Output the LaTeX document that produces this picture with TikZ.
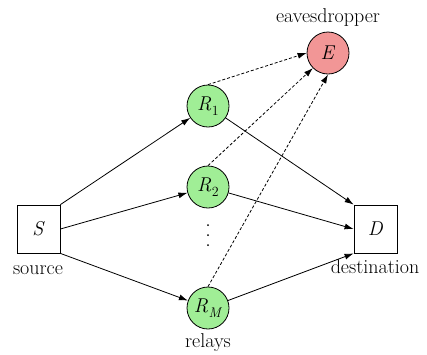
\documentclass[tikz,border=0pt]{standalone}
\usetikzlibrary{arrows.meta}
\definecolor{relaygreen}{RGB}{160,238,150}
\definecolor{evered}{RGB}{242,150,150}
\newcommand{\relaylab}[1]{\textit{R}\kern0.5pt\raisebox{-0.22em}{\fontsize{14}{16}\selectfont #1}}
\begin{document}
\begin{tikzpicture}[x=1pt,y=-1pt,
  font=\rmfamily\fontsize{20}{24}\selectfont,
  relay/.style={circle,draw,line width=0.8pt,fill=relaygreen,minimum size=42pt,inner sep=0pt},
  eve/.style={circle,draw,line width=0.8pt,fill=evered,minimum size=42pt,inner sep=0pt},
  term/.style={draw,line width=0.8pt,fill=white,minimum width=43pt,minimum height=48pt,inner sep=0pt},
  lbl/.style={inner sep=0pt},
  arr/.style={line width=0.8pt,-{Latex[length=9pt,width=6pt]}},
  darr/.style={arr,dash pattern=on 3pt off 2pt}]
\useasboundingbox (0,0) rectangle (427,354);
\node[term] (S) at (38.5,229) {\textit{S}};
\node[term] (D) at (375.5,229) {\textit{D}};
\node[relay] (R1) at (208,106) {\relaylab{1}};
\node[relay] (R2) at (208,187) {\relaylab{2}};
\node[relay] (RM) at (208,308) {\relaylab{\textit{M}}};
\node[eve] (E) at (328,53) {\textit{E}};
\node[lbl] (ls) at (38,270) {source};
\node[lbl] (ld) at (375,267) {destination};
\node[lbl] (lr) at (208,343) {relays};
\node[lbl] (le) at (328,18) {eavesdropper};
\foreach \y in {225,235,245} \fill (208,\y) circle (1pt);
\draw[arr] (S.north east) -- (R1);
\draw[arr] (S.east) -- (R2);
\draw[arr] (S.south east) -- (RM);
\draw[arr] (R1) -- (D.north west);
\draw[arr] (R2) -- (D.west);
\draw[arr] (RM) -- (D.south west);
\draw[darr] (R1.north) -- (E.west);
\draw[darr] (R2.north) -- (E.south west);
\draw[darr] (RM.north) -- (E.south);
\end{tikzpicture}
\end{document}
